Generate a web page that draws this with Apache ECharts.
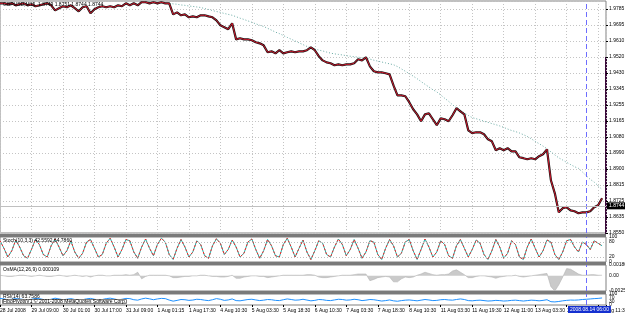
<!DOCTYPE html>
<html><head><meta charset="utf-8">
<script src="https://cdn.jsdelivr.net/npm/echarts@6/dist/echarts.min.js"></script>
<style>html,body{margin:0;padding:0;background:#fff}#c{width:625px;height:314px}</style>
</head><body><div id="c"></div>
<script>
// ---- data ----
const timeLabels = ["28 Jul 2008","29 Jul 09:00","30 Jul 01:00","30 Jul 17:00","31 Jul 09:00","1 Aug 01:15","1 Aug 17:30","4 Aug 10:30","5 Aug 03:30","5 Aug 18:30","6 Aug 10:30","7 Aug 03:30","7 Aug 18:30","8 Aug 10:30","11 Aug 03:30","11 Aug 19:30","12 Aug 11:00","13 Aug 03:30","13 Aug 19:30","14 Aug 11:30"];
const priceTickLabels = ["1.8550","1.8635","1.8725","1.8815","1.8900","1.8990","1.9080","1.9165","1.9255","1.9345","1.9430","1.9520","1.9610","1.9695","1.9785"];
const priceClose = [
1.9818,1.9818,1.9813,1.9818,1.9807,1.9813,1.9818,1.9807,1.9813,1.9802,
1.9807,1.9813,1.9818,1.9807,1.9779,1.9791,1.9802,1.9796,1.9807,1.9791,
1.9774,1.9796,1.9802,1.9763,1.9785,1.9796,1.9802,1.9796,1.9802,1.9796,
1.9807,1.9802,1.9818,1.9807,1.9818,1.9807,1.9824,1.9824,1.9818,1.9824,
1.9818,1.9824,1.9818,1.9818,1.9757,1.9768,1.9752,1.9757,1.9741,1.9746,
1.9741,1.9752,1.9752,1.9746,1.9741,1.9724,1.9697,1.9686,1.9675,1.9708,
1.9619,1.9625,1.9619,1.9619,1.9614,1.9603,1.9597,1.9586,1.9548,1.9553,
1.9542,1.9559,1.9542,1.9548,1.9553,1.9548,1.9553,1.9553,1.9559,1.9575,
1.9559,1.9526,1.9503,1.9492,1.9487,1.9476,1.9481,1.9476,1.9481,1.9481,
1.9487,1.9509,1.9503,1.9520,1.9470,1.9443,1.9437,1.9437,1.9432,1.9426,
1.9365,1.9310,1.9310,1.9305,1.9272,1.9233,1.9205,1.9167,1.9205,1.9211,
1.9178,1.9145,1.9183,1.9178,1.9167,1.9200,1.9239,1.9222,1.9205,1.9117,
1.9101,1.9106,1.9106,1.9095,1.9067,1.9056,1.9007,1.9018,1.9007,1.9018,
1.9001,1.9001,1.8968,1.8963,1.8957,1.8963,1.8957,1.8974,1.8985,1.9012,
1.8841,1.8769,1.8664,1.8687,1.8692,1.8675,1.8670,1.8659,1.8664,1.8664,
1.8670,1.8692,1.8703,1.8742];
const priceMA = [
null,null,null,null,null,null,null,null,null,null,
null,null,null,null,null,null,null,null,null,null,
null,null,null,null,null,null,null,null,null,null,
null,null,null,null,null,null,null,1.9829,1.9826,1.9824,
1.9823,1.9821,1.9819,1.9818,1.9815,1.9813,1.9809,1.9807,1.9803,1.9801,
1.9798,1.9795,1.9789,1.9784,1.9778,1.9773,1.9768,1.9762,1.9757,1.9752,
1.9744,1.9736,1.9729,1.9721,1.9713,1.9705,1.9697,1.9690,1.9680,1.9670,
1.9659,1.9651,1.9640,1.9630,1.9620,1.9610,1.9600,1.9590,1.9580,1.9572,
1.9566,1.9560,1.9555,1.9549,1.9543,1.9539,1.9536,1.9533,1.9529,1.9526,
1.9523,1.9521,1.9517,1.9515,1.9510,1.9504,1.9499,1.9494,1.9489,1.9484,
1.9479,1.9469,1.9456,1.9443,1.9430,1.9416,1.9402,1.9386,1.9371,1.9356,
1.9341,1.9329,1.9312,1.9294,1.9277,1.9258,1.9241,1.9227,1.9213,1.9199,
1.9187,1.9181,1.9174,1.9167,1.9161,1.9154,1.9148,1.9141,1.9133,1.9124,
1.9116,1.9110,1.9102,1.9093,1.9083,1.9070,1.9056,1.9043,1.9030,1.9015,
1.8998,1.8981,1.8965,1.8953,1.8940,1.8928,1.8916,1.8907,1.8887,1.8866,
1.8846,1.8831,1.8811,1.8790];
const stochMain = [
85,55,20,45,88,60,25,15,50,90,70,30,20,65,92,60,25,45,85,40,
15,35,80,90,55,20,30,75,95,60,20,50,90,85,40,15,60,92,55,25,
70,95,80,30,10,55,90,60,20,40,85,70,25,15,65,93,75,30,50,88,
60,20,35,80,92,50,15,45,90,65,25,20,70,95,60,20,55,88,40,10,
45,85,75,30,20,60,92,70,25,50,90,55,15,40,85,80,30,10,55,90,
65,20,35,80,90,45,10,50,92,60,20,40,85,70,25,15,65,90,55,20,
50,88,75,30,10,45,90,60,15,35,85,70,20,10,60,92,55,20,45,88,
80,30,10,40,85,90,60,40,80,70,50,85,75,65];
const osma = [
0.0001,0.0000,-0.0001,-0.0001,0.0000,0.0001,0.0001,0.0000,-0.0001,0.0000,
0.0001,0.0000,-0.0001,-0.0001,0.0000,0.0001,0.0000,-0.0001,0.0000,0.0001,
0.0000,-0.0001,0.0000,-0.0002,0.0000,0.0001,0.0001,0.0000,0.0000,0.0001,
0.0001,0.0001,0.0002,0.0001,0.0002,0.0006,-0.0005,-0.0001,0.0001,0.0001,
0.0001,0.0001,0.0001,0.0000,-0.0003,-0.0003,-0.0002,-0.0001,-0.0001,0.0000,
0.0000,0.0001,0.0001,0.0000,-0.0001,-0.0001,-0.0002,-0.0002,-0.0001,0.0001,
-0.0004,-0.0004,-0.0002,-0.0001,0.0000,0.0000,-0.0001,-0.0001,-0.0003,-0.0002,
-0.0001,0.0000,0.0001,0.0001,0.0001,0.0001,0.0001,0.0001,0.0002,0.0002,
0.0001,-0.0002,-0.0003,-0.0003,-0.0002,-0.0001,0.0000,0.0001,0.0001,0.0001,
0.0002,0.0003,0.0003,0.0003,-0.0008,-0.0006,-0.0003,-0.0002,-0.0001,-0.0002,
-0.0010,-0.0010,-0.0005,-0.0002,-0.0003,-0.0002,0.0001,0.0003,0.0006,0.0004,
0.0002,0.0001,0.0002,0.0002,0.0003,0.0008,0.0010,0.0006,0.0002,-0.0003,
-0.0003,-0.0001,0.0000,0.0000,-0.0001,-0.0002,-0.0004,-0.0002,-0.0001,0.0000,
0.0000,0.0001,-0.0001,-0.0002,-0.0001,0.0000,0.0001,0.0002,0.0003,0.0004,
-0.0018,-0.0025,-0.0015,-0.0002,0.0012,0.0011,0.0007,0.0003,0.0001,0.0001,
0.0002,0.0002,0.0001,0.0001];
const rsi = [
60,55,48,52,58,55,50,47,52,60,58,50,45,52,62,55,48,52,58,50,
45,48,56,60,52,46,50,58,62,55,47,52,60,58,48,44,55,62,56,48,
55,60,58,45,35,42,50,48,42,45,52,50,44,40,48,58,52,42,46,55,
40,38,44,50,52,46,40,44,50,48,42,40,48,55,50,44,46,52,45,38,
42,50,48,42,40,46,52,50,44,46,52,48,40,44,50,48,42,36,40,46,
38,34,40,44,46,42,38,44,50,46,40,42,48,50,46,44,50,55,50,40,
38,42,44,40,36,38,42,40,36,38,42,44,40,36,40,44,42,38,42,48,
30,28,32,38,42,45,44,46,50,52,55,58,60,64];
const bidPrice = 1.8744;
const crossIndex = 149;
const crossLabel = "2008.08.14 06:00";
const titleMain = "GBPUSD,M15  1.8749 1.8751 1.8744 1.8744";
const titleStoch = "Stoch(10,3,3) 42.5592 64.7860";
const titleOsma = "OsMA(12,26,9) 0.000109";
const titleRsi = "RSI(14) 63.7586";
const titleFibo = "FiboPivotsV1 \u00A9 2001-2008 MetaQuotes Software Corp.";

// ---- chart ----
const N = 155;
const cats = Array.from({length: N}, (_, i) => String(i));
const step = 1.855 / 210;
const FONT = 'Liberation Sans';
const FS = 5;
const dot = {color: '#c4c4c4', type: [1, 2], width: 1};
const frame = {show: true, borderColor: '#808080', borderWidth: 1, backgroundColor: 'transparent',
  containLabel: false, outerBoundsMode: 'none'};
const grids = [
  Object.assign({left: 0, right: 19, top: 1, height: 232}, frame),
  Object.assign({left: 0, right: 19, top: 237, height: 25}, frame),
  Object.assign({left: 0, right: 19, top: 265, height: 26}, frame),
  Object.assign({left: 0, right: 19, top: 294, height: 11}, frame)
];
function xAx(g, showLabels) {
  return {
    type: 'category', gridIndex: g, data: cats, boundaryGap: false,
    axisLine: {show: false},
    axisTick: {show: showLabels, interval: 7, length: 2, lineStyle: {color: '#000'}},
    axisLabel: {show: showLabels, interval: 7, align: 'left', margin: 3, fontSize: FS, fontFamily: FONT, color: '#000',
      showMinLabel: true, showMaxLabel: true, hideOverlap: false,
      formatter: (v, i) => (i % 8 === 0 ? (timeLabels[i / 8] || '') : '')},
    splitLine: {show: g === 0, interval: 7, lineStyle: dot}
  };
}
const lblStyle = {fontSize: FS, fontFamily: FONT, color: '#000', margin: 3};
const crossLine = {
  silent: true, symbol: 'none', label: {show: false},
  lineStyle: {color: '#6e6eff', type: [5, 3], width: 1},
  data: [{xAxis: String(crossIndex)}]
};
const tStyle = {fontSize: FS, fontWeight: 'normal', fontFamily: FONT, color: '#000'};
const option = {
  animation: false,
  backgroundColor: '#fff',
  grid: grids,
  xAxis: [xAx(0, false), xAx(1, false), xAx(2, false), xAx(3, true)],
  yAxis: [
    {type: 'value', gridIndex: 0, position: 'right', min: 1.855, max: 1.855 + 14.5 * step, interval: step,
      axisLine: {show: false}, axisTick: {show: true, length: 2, lineStyle: {color: '#000'}},
      axisLabel: Object.assign({}, lblStyle, {showMaxLabel: false, formatter: v => {
        const k = Math.round((v - 1.855) / step);
        return Math.abs(v - (1.855 + k * step)) < 1e-6 ? (priceTickLabels[k] || '') : '';
      }}),
      splitLine: {show: true, lineStyle: dot}},
    {type: 'value', gridIndex: 1, position: 'right', min: 0, max: 100, interval: 20,
      axisLine: {show: false}, axisTick: {show: false},
      axisLabel: Object.assign({}, lblStyle, {formatter: v => ([0, 20, 80, 100].includes(v) ? String(v) : '')}),
      splitLine: {show: false}},
    {type: 'value', gridIndex: 2, position: 'right', min: -0.00252, max: 0.0018, interval: 0.00012,
      axisLine: {show: false}, axisTick: {show: false},
      axisLabel: Object.assign({}, lblStyle, {formatter: v => {
        if (Math.abs(v - 0.0018) < 1e-9) return '0.00180';
        if (Math.abs(v) < 1e-9) return '0.00';
        if (Math.abs(v + 0.00252) < 1e-9) return '-0.00252';
        return '';
      }}),
      splitLine: {show: false}},
    {type: 'value', gridIndex: 3, position: 'right', min: 0, max: 100, interval: 10,
      axisLine: {show: false}, axisTick: {show: false},
      axisLabel: Object.assign({}, lblStyle, {formatter: v => ([0, 30, 70, 100].includes(v) ? String(v) : '')}),
      splitLine: {show: false}}
  ],
  title: [
    {text: titleMain, left: 3, top: 2, padding: 0, textStyle: tStyle},
    {text: titleStoch, left: 3, top: 238, padding: 0, textStyle: tStyle},
    {text: titleOsma, left: 3, top: 267, padding: 0, textStyle: tStyle},
    {text: titleRsi, left: 3, top: 294, padding: 0, textStyle: tStyle},
    {text: titleFibo, left: 2, top: 299, padding: [0, 1], borderColor: '#808080', borderWidth: 1, backgroundColor: '#fff',
      textStyle: tStyle}
  ],
  series: [
    {type: 'line', xAxisIndex: 0, yAxisIndex: 0, data: priceMA, symbol: 'none', connectNulls: false,
      lineStyle: {color: '#6aaaa4', width: 1, type: [1, 2]}, z: 2,
      markLine: crossLine},
    {type: 'line', xAxisIndex: 0, yAxisIndex: 0, data: priceClose, symbol: 'none',
      lineStyle: {color: '#141414', width: 2.2}, z: 3,
      markLine: {silent: true, symbol: 'none',
        lineStyle: {color: '#c0c0c0', type: 'solid', width: 1},
        label: {show: true, position: 'end', distance: 1, formatter: () => bidPrice.toFixed(4),
          backgroundColor: '#000', color: '#fff', fontSize: FS, fontFamily: FONT, padding: [1, 2]},
        data: [{yAxis: bidPrice}]}},
    {type: 'line', xAxisIndex: 0, yAxisIndex: 0, data: priceClose, symbol: 'none',
      lineStyle: {color: '#e3172f', width: 0.9}, z: 4},
    {type: 'line', xAxisIndex: 1, yAxisIndex: 1, data: stochMain, symbol: 'none',
      lineStyle: {color: '#20b2aa', width: 1}, z: 3,
      markLine: Object.assign({}, crossLine, {data: [{xAxis: String(crossIndex)}]})},
    {type: 'line', xAxisIndex: 1, yAxisIndex: 1, data: stochMain, symbol: 'none',
      lineStyle: {color: '#ff2020', width: 1, type: [2, 2]}, z: 4,
      markLine: {silent: true, symbol: 'none', label: {show: false}, lineStyle: {color: '#c0c0c0', type: [1, 2], width: 1},
        data: [{yAxis: 20}, {yAxis: 80}]}},
    {type: 'line', xAxisIndex: 2, yAxisIndex: 2, data: osma, symbol: 'none',
      lineStyle: {color: '#b4b4b4', width: 0.6}, areaStyle: {color: '#b4b4b4', origin: 0}, z: 3,
      markLine: crossLine},
    {type: 'line', xAxisIndex: 3, yAxisIndex: 3, data: rsi, symbol: 'none',
      lineStyle: {color: '#1e90ff', width: 1}, z: 3,
      markLine: crossLine}
  ],
  graphic: [
    {type: 'rect', shape: {x: 0, y: 234, width: 606, height: 3}, style: {fill: '#7a7a7a'}, silent: true},
    {type: 'rect', shape: {x: 0, y: 262, width: 606, height: 3}, style: {fill: '#7a7a7a'}, silent: true},
    {type: 'rect', shape: {x: 0, y: 291, width: 606, height: 3}, style: {fill: '#7a7a7a'}, silent: true},
    {type: 'rect', shape: {x: 605, y: 57, width: 2, height: 177}, style: {fill: '#3a0a3a'}, silent: true},
    {type: 'text', x: 568, y: 306, silent: true, z: 10,
      style: {text: crossLabel, fill: '#fff', font: FS + 'px ' + FONT, backgroundColor: '#1530d0', padding: [1, 2]}}
  ]
};
const chart = echarts.init(document.getElementById('c'), null, {renderer: 'canvas'});
chart.setOption(option);
</script></body></html>
